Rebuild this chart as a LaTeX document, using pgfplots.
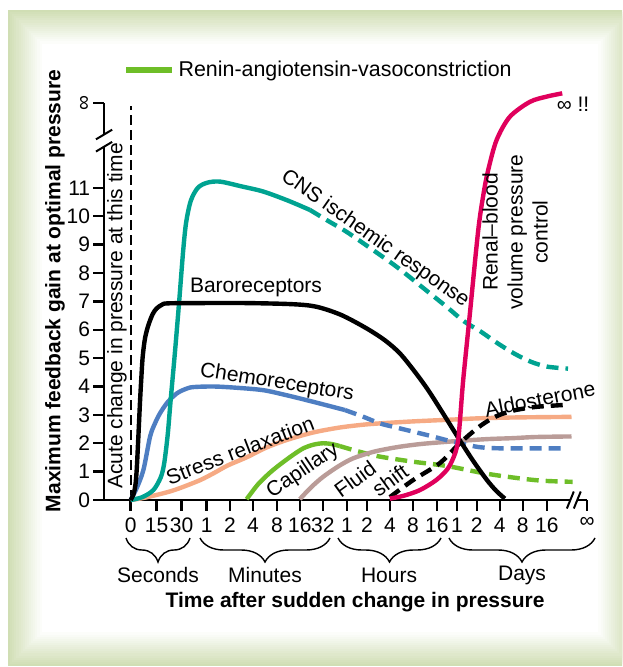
\documentclass[border=0pt]{standalone}
\usepackage{pgfplots}
\pgfplotsset{compat=1.18}
\usepackage{graphicx}
\usepackage{fontspec}
\setmainfont{Liberation Sans}
\usetikzlibrary{decorations.pathreplacing}
\definecolor{cteal}{RGB}{0,163,145}
\definecolor{cblue}{RGB}{78,126,194}
\definecolor{corange}{RGB}{246,170,132}
\definecolor{cgreen}{RGB}{110,190,40}
\definecolor{cmauve}{RGB}{186,156,152}
\definecolor{cred}{RGB}{224,0,92}
\definecolor{frameg}{RGB}{208,222,180}
\newcommand{\lf}{\fontsize{10.5}{12.5}\selectfont}
\begin{document}
\begin{tikzpicture}
\begin{scope}[x=0.5pt,y=-0.5pt]
\useasboundingbox (0,0) rectangle (622,667);
\clip (0,0) rectangle (622,667);
\fill[white] (0,0) rectangle (622,667);
\foreach \k in {0,...,16}{
  \pgfmathsetmacro{\ins}{\k*2.1}
  \pgfmathsetmacro{\pc}{100-\k*6.25}
  \fill[frameg!\pc!white] (8+\ins,10+\ins) rectangle (632-\ins,666-\ins);
}
\end{scope}
\begin{axis}[
  at={(52pt,-250pt)}, anchor=south west,
  scale only axis, width=241.5pt, height=207.15pt,
  xmin=-1.153, xmax=19.72, ymin=0, ymax=14.6,
  axis lines=left, axis line style={draw=none,-},
  clip=false,
  xtick={0,1.123,2.203,3.283,4.289,5.283,6.32,7.313,8.307,9.344,10.208,11.201,12.195,13.232,14.095,14.959,15.953,16.946,17.983,19.72},
  xticklabels={0,15,30,1,2,4,8,16,32,1,2,4,8,16,1,2,4,8,16,∞},
  ytick={0,1,2,3,4,5,6,7,8,9,10,11,14},
  yticklabels={0,1,2,3,4,5,6,7,8,9,10,11,\rotatebox{90}{∞}},
  tick align=outside, major tick length=5.25pt,
  tick style={black, line width=1.2pt},
  ticklabel style={font=\lf},
  yticklabel style={inner sep=1.5pt},
  xlabel={\bfseries Time after sudden change in pressure},
  ylabel={\bfseries Maximum feedback gain at optimal pressure},
  xlabel style={font=\lf, at={(axis description cs:0.5197,-0.2462)}, anchor=center},
  ylabel style={font=\lf, at={(axis description cs:-0.1013,0.5045)}, anchor=center},
  legend style={at={(0.0394,1.038)}, anchor=west, draw=none, fill=none, font=\fontsize{10.7}{12.5}\selectfont, inner sep=0pt},
  legend image code/.code={\draw[#1] (0pt,0pt) -- (17pt,0pt); \path (0pt,0pt) -- (23pt,0pt);},
  every axis plot/.append style={line width=2.2pt, smooth, tension=0.5},
]
\addlegendimage{cgreen, line width=2.6pt}
\addlegendentry{Renin-angiotensin-vasoconstriction}
% axis lines with breaks
\draw[line width=1.2pt] (axis cs:-1.153,0) -- (axis cs:19.0,0);
\draw[line width=1.2pt] (axis cs:19.3,0) -- (axis cs:19.72,0);
\draw[line width=1pt] (axis cs:18.85,-0.3) -- (axis cs:19.15,0.3);
\draw[line width=1pt] (axis cs:19.15,-0.3) -- (axis cs:19.45,0.3);
\draw[line width=1.2pt] (axis cs:-1.153,0) -- (axis cs:-1.153,12.45);
\draw[line width=1.2pt] (axis cs:-1.153,12.88) -- (axis cs:-1.153,14);
\draw[line width=1pt] (axis cs:-1.5,12.28) -- (axis cs:-0.8,12.62);
\draw[line width=1pt] (axis cs:-1.5,12.71) -- (axis cs:-0.8,13.05);
% acute change line
\addplot[black, line width=1pt, sharp plot, dash pattern=on 5pt off 2.5pt] coordinates {(0,0) (0,13.9)};
% Stress relaxation
\addplot[corange] coordinates {(0,0) (0.6,0.08) (1.56,0.27) (2.13,0.42) (3.0,0.7) (3.6,0.95) (4.2,1.22) (5.0,1.5) (5.87,1.85) (6.8,2.13) (7.89,2.38) (9.0,2.55) (10.0,2.65) (10.77,2.7) (12.2,2.77) (13.8,2.83) (15.09,2.88) (16.67,2.91) (19.05,2.93)};
% Capillary
\addplot[cgreen] coordinates {(5.01,0.03) (5.5,0.55) (6.0,0.95) (6.45,1.25) (7.0,1.58) (7.46,1.82) (7.9,1.95) (8.32,2.0) (8.7,1.97) (9.04,1.9)};
\addplot[cgreen, dash pattern=on 6pt off 3.5pt] coordinates {(9.04,1.9) (9.8,1.72) (10.77,1.53) (12.2,1.35) (13.65,1.2) (15.09,0.97) (16.0,0.85) (17.25,0.72) (18.0,0.67) (19.1,0.64)};
% Fluid shift
\addplot[cmauve] coordinates {(7.31,0.03) (7.8,0.45) (8.32,0.82) (9.0,1.2) (9.62,1.47) (10.5,1.7) (11.49,1.86) (12.5,1.97) (13.65,2.05) (14.5,2.1) (15.5,2.15) (16.53,2.18) (17.5,2.22) (19.05,2.24)};
% Chemoreceptors
\addplot[cblue] coordinates {(0,0) (0.25,0.4) (0.55,1.06) (0.84,2.24) (1.05,2.7) (1.27,3.06) (1.6,3.45) (2.0,3.76) (2.4,3.92) (2.72,3.98) (3.57,4.0) (4.5,3.96) (5.73,3.87) (6.8,3.68) (7.89,3.46) (9.26,3.17)};
\addplot[cblue, dash pattern=on 6pt off 3.5pt] coordinates {(9.26,3.17) (10.0,2.95) (10.77,2.7) (11.5,2.55) (12.2,2.41) (13.0,2.25) (13.65,2.11) (14.22,2.0) (15.09,1.86) (16,1.82) (17,1.82) (18.8,1.82)};
% CNS ischemic response
\addplot[cteal] coordinates {(0,0) (0.5,0.1) (0.98,0.35) (1.3,0.8) (1.45,1.3) (1.6,2.3) (1.72,3.45) (1.91,5.18) (2.09,6.94) (2.27,8.8) (2.4,9.8) (2.6,10.55) (2.9,11.0) (3.3,11.18) (3.86,11.22) (4.8,11.05) (5.73,10.87) (6.8,10.55) (7.75,10.22)};
\addplot[cteal, dash pattern=on 6pt off 3.5pt] coordinates {(7.75,10.22) (8.5,9.85) (9.33,9.45) (10.4,8.85) (11.49,8.22) (12.6,7.5) (13.65,6.81) (14.4,6.3) (15.1,5.95) (15.9,5.5) (16.6,5.15) (17.3,4.87) (18.0,4.7) (18.9,4.63)};
% Baroreceptors
\addplot[black] coordinates {(0,0) (0.12,0.2) (0.2,0.5) (0.26,1.06) (0.33,2.2) (0.4,3.41) (0.46,4.3) (0.52,5.06) (0.62,5.7) (0.76,6.15) (0.95,6.55) (1.12,6.75) (1.35,6.88) (1.6,6.93) (3,6.94) (5,6.94) (7,6.9) (8.03,6.81) (9.1,6.52) (10.19,6.05) (11.0,5.62) (11.63,5.17) (12.25,4.55) (12.85,3.88) (13.5,3.05) (14.22,2.11) (14.8,1.38) (15.38,0.72) (15.8,0.32) (16.17,0.05)};
% Aldosterone
\addplot[black, dash pattern=on 6pt off 3.5pt] coordinates {(11.2,0.1) (12.2,0.7) (13.36,1.3) (14.22,2.0) (15.09,2.6) (15.8,2.95) (16.53,3.15) (17.5,3.28) (18.75,3.35)};
% Renal-blood volume
\addplot[cred] coordinates {(11.2,0.05) (11.8,0.15) (12.5,0.35) (13.2,0.7) (13.7,1.1) (14.0,1.6) (14.15,2.1) (14.25,3.0) (14.37,4.23) (14.66,6.58) (15.02,9.51) (15.25,10.8) (15.45,11.63) (15.81,12.68) (16.38,13.5) (17.25,14.03) (18.0,14.22) (18.65,14.33)};
\end{axis}
\begin{scope}[x=0.5pt,y=-0.5pt, every node/.style={font=\lf, inner sep=0pt}]
\node at (256,287) {Baroreceptors};
\node[rotate=-9] at (277,383) {Chemoreceptors};
\node[rotate=21] at (240,450) {Stress relaxation};
\node[rotate=34] at (303,471) {Capillary};
\node[rotate=36] at (355,479) {Fluid};
\node[rotate=36] at (390,480) {shift};
\node[rotate=-35] at (375,239) {CNS ischemic response};
\node[rotate=90, align=center, font=\fontsize{10.5}{12.5}\selectfont] at (515,232) {Renal--blood\\volume pressure\\control};
\node[rotate=11] at (540,399) {Aldosterone};
\node[rotate=90] at (117,316) {Acute change in pressure at this time};
\node at (573,104) {∞ !!};
\draw[decorate, decoration={brace, mirror, amplitude=12pt}, line width=0.7pt] (126,538) -- (190,538);
\draw[decorate, decoration={brace, mirror, amplitude=12pt}, line width=0.7pt] (200,538) -- (330,538);
\draw[decorate, decoration={brace, mirror, amplitude=12pt}, line width=0.7pt] (338,538) -- (441,538);
\draw[decorate, decoration={brace, mirror, amplitude=12pt}, line width=0.7pt] (449,538) -- (595,538);
\node at (158,575) {Seconds};
\node at (265,575) {Minutes};
\node at (389,575) {Hours};
\node at (522,575) {Days};
\end{scope}
\end{tikzpicture}
\end{document}
